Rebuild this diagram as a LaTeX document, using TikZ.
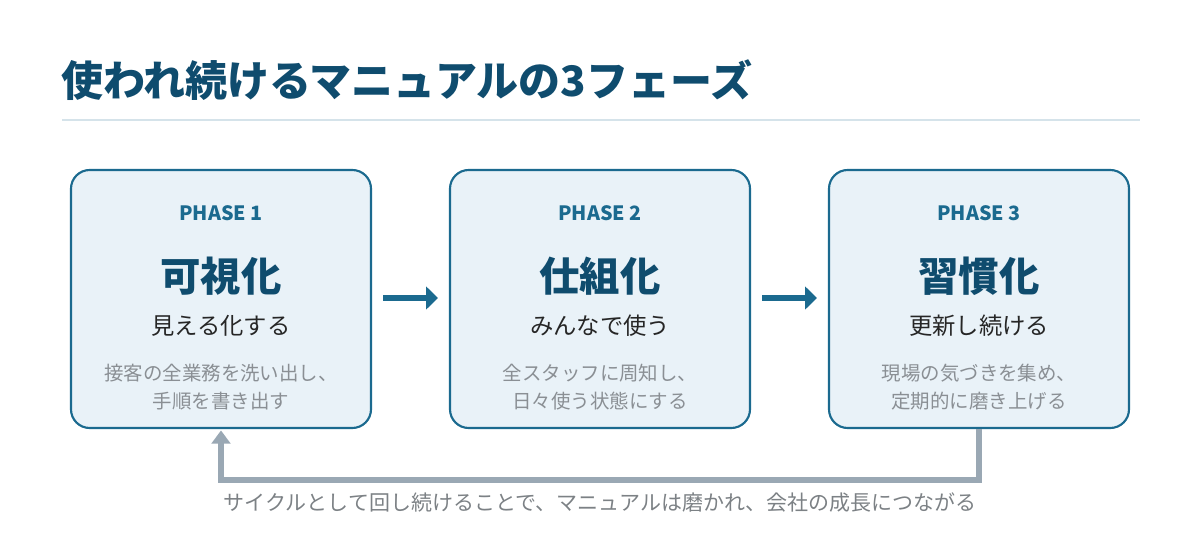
\documentclass[tikz,border=0pt]{standalone}
\usepackage{fontspec}
\setmainfont{Noto Sans CJK JP}
\usetikzlibrary{arrows.meta}
\definecolor{navy}{HTML}{0F4C6E}
\definecolor{bord}{HTML}{1B6A8F}
\definecolor{boxfill}{HTML}{E9F2F8}
\definecolor{grayt}{HTML}{8A8F94}
\definecolor{loopc}{HTML}{9AA8B4}
\definecolor{rule}{HTML}{D5E3EA}
\begin{document}
\begin{tikzpicture}[x=0.75pt,y=-0.75pt,
  box/.style={draw=bord,line width=1.6pt,fill=boxfill,rounded corners=14pt,minimum width=225pt,minimum height=193.5pt,inner sep=0pt},
  phase/.style={text=bord,font=\fontsize{14.8}{17}\selectfont\bfseries},
  head/.style={text=navy,font=\fontsize{30.3}{34}\selectfont\bfseries},
  sub/.style={text=black!85,font=\fontsize{17.5}{20}\selectfont},
  desc/.style={text=grayt,font=\fontsize{14.6}{21}\selectfont,align=center},
  flow/.style={draw=bord,line width=5pt,-{Triangle[length=9pt,width=17pt]}}]
\useasboundingbox (0,0) rectangle (1200,560);
\node[anchor=west,text=navy,font=\fontsize{31.5}{35}\selectfont\bfseries] (title) at (57,80) {使われ続けるマニュアルの3フェーズ};
\draw[rule,line width=1.5pt] (62,120) -- (1140,120);
\foreach \i/\x/\p/\h/\s/\d in {1/221/PHASE 1/可視化/見える化する/{接客の全業務を洗い出し、\\手順を書き出す},
  2/600/PHASE 2/仕組化/みんなで使う/{全スタッフに周知し、\\日々使う状態にする},
  3/979/PHASE 3/習慣化/更新し続ける/{現場の気づきを集め、\\定期的に磨き上げる}}{
  \node[box] (b\i) at (\x,299) {};
  \node[phase] (p\i) at (\x,213) {\p};
  \node[head] (h\i) at (\x,276) {\h};
  \node[sub] (s\i) at (\x,326) {\s};
  \node[desc] (d\i) at (\x,387) {\d};
}
\coordinate (a1s) at (383,298); \coordinate (a1e) at (438,298);
\coordinate (a2s) at (762,298); \coordinate (a2e) at (817,298);
\draw[flow] (a1s) -- (a1e);
\draw[flow] (a2s) -- (a2e);
\coordinate (c1) at (979,480); \coordinate (c2) at (221,480);
\draw[loopc,line width=4pt,-{Triangle[length=10pt,width=14pt]}] (b3.south) -- (c1) -- (c2) -- ([yshift=-1pt]b1.south);
\node[text=grayt!90!black,font=\fontsize{15.75}{18}\selectfont] (cap) at (600,503) {サイクルとして回し続けることで、マニュアルは磨かれ、会社の成長につながる};
\end{tikzpicture}
\end{document}
